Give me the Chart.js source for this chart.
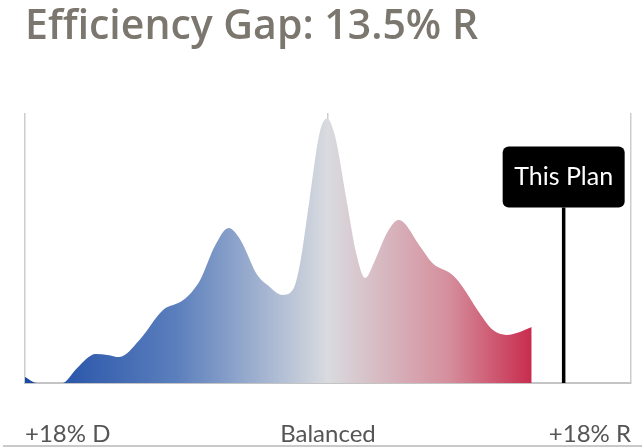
<!DOCTYPE html>
<html>
<head>
<meta charset="utf-8">
<script src="https://cdn.jsdelivr.net/npm/chart.js@4/dist/chart.umd.min.js"></script>
<style>
  body { margin: 0; background: #fff; }
</style>
</head>
<body>
<canvas id="gapChart" width="642" height="448"></canvas>
<script>
// efficiency gap distribution, x in % (negative = D, positive = R)
const gapX = [-18, -17.3, -15.8, -14.9, -13.8, -13.1, -12.4, -11.2, -9.8, -8.6, -7.6, -6.7, -5.9, -5.2,
  -4.2, -3.6, -2.7, -2.1, -1.7, -1.1, -0.5, -0.06, 0.4, 1.1, 1.7, 2.2, 2.8, 3.5, 4.2, 5.5, 6.2, 7.4,
  8.0, 9.0, 9.8, 10.6, 11.4, 12.1];
const density = [2.2, 0, 0, 5.6, 10.7, 10.4, 9.6, 15.9, 27, 30.7, 38.1, 51, 57.4, 53,
  40, 36.3, 32.6, 34.4, 43, 67.8, 92.6, 98, 91.9, 67.8, 47.4, 38.9, 45.6, 55.6, 60.4, 50.4, 44.4, 40,
  35.6, 25.9, 19.6, 17.8, 18.9, 20.7];

const tickValues = [-18, 0, 18];
const tickLabels = ["+18% D", "Balanced", "+18% R"];

const gapValue = 13.5;   // shown in title
const planX = 14;        // where the marker sits on the axis
const markerTop = 65;    // marker line starts under the label box

// axis labels: first one flush left, last flush right
const axisLabels = {
  id: "axisLabels",
  afterDraw(chart) {
    const ctx = chart.ctx;
    const xs = chart.scales.x;
    ctx.save();
    ctx.fillStyle = "#555";
    ctx.font = "24px Lato";
    ctx.textBaseline = "alphabetic";
    xs.ticks.forEach((t, i) => {
      const idx = tickValues.indexOf(t.value);
      if (idx < 0) return;
      ctx.textAlign = i === 0 ? "left" : i === xs.ticks.length - 1 ? "right" : "center";
      ctx.fillText(tickLabels[idx], xs.getPixelForValue(t.value), chart.chartArea.bottom + 59);
    });
    // thin rule along the bottom edge
    ctx.strokeStyle = "#c9c9c9";
    ctx.lineWidth = 2;
    ctx.beginPath();
    ctx.moveTo(3, chart.height - 2);
    ctx.lineTo(chart.width, chart.height - 2);
    ctx.stroke();
    ctx.restore();
  }
};

const planMarker = {
  id: "planMarker",
  afterDraw(chart) {
    const ctx = chart.ctx;
    const x = chart.scales.x.getPixelForValue(planX);
    const top = chart.scales.y.getPixelForValue(markerTop);
    const bottom = chart.chartArea.bottom;
    ctx.save();
    ctx.strokeStyle = "#000";
    ctx.lineWidth = 3.5;
    ctx.beginPath();
    ctx.moveTo(x, top);
    ctx.lineTo(x, bottom);
    ctx.stroke();

    const w = 122, h = 61;
    ctx.fillStyle = "#000";
    ctx.beginPath();
    ctx.roundRect(x - w / 2, top - h, w, h, 6);
    ctx.fill();
    ctx.fillStyle = "#fff";
    ctx.font = "25px Lato";
    ctx.textAlign = "center";
    ctx.textBaseline = "middle";
    ctx.fillText("This Plan", x, top - h / 2);
    ctx.restore();
  }
};

function fillGradient(context) {
  const area = context.chart.chartArea;
  if (!area) return "#ccc";
  const g = context.chart.ctx.createLinearGradient(area.left, 0, area.right, 0);
  g.addColorStop(0, "#1a49a4");
  g.addColorStop(0.25, "#5b7fbd");
  g.addColorStop(0.5, "#d9dbdf");
  g.addColorStop(0.7, "#d58e9c");
  g.addColorStop(0.84, "#c8294b");
  g.addColorStop(1, "#c01f40");
  return g;
}

const data = {
  datasets: [
    {
      data: gapX.map((x, i) => ({ x: x, y: density[i] })),
      fill: "origin",
      backgroundColor: fillGradient,
      borderWidth: 0,
      pointRadius: 0,
      cubicInterpolationMode: "monotone",
    },
  ],
};

const config = {
  type: "line",
  data: data,
  options: {
    responsive: false,
    animation: false,
    events: [],
    layout: { padding: { left: 25, right: 11, top: 0, bottom: 65 } },
    plugins: {
      legend: { display: false },
      tooltip: { enabled: false },
      title: {
        display: true,
        text: "Efficiency Gap: " + gapValue + "% R",
        align: "start",
        color: "#7b776f",
        font: { family: "Open Sans", size: 41, weight: "600", lineHeight: 1.2 },
        padding: { top: 3, bottom: 60.8 },
      },
    },
    scales: {
      x: {
        type: "linear",
        min: -18,
        max: 18,
        z: 1,
        afterBuildTicks: (scale) => {
          scale.ticks = tickValues.map((v) => ({ value: v }));
        },
        grid: { color: "#cdcdcd", lineWidth: 1.5, drawTicks: false },
        border: { color: "#c4c4c4", width: 2 },
        ticks: { display: false },
      },
      y: { display: false, min: 0, max: 100 },
    },
  },
  plugins: [axisLabels, planMarker],
};

var gapCanvas = document.getElementById("gapChart").getContext("2d");
var chart = new Chart(gapCanvas, config);
</script>
</body>
</html>
